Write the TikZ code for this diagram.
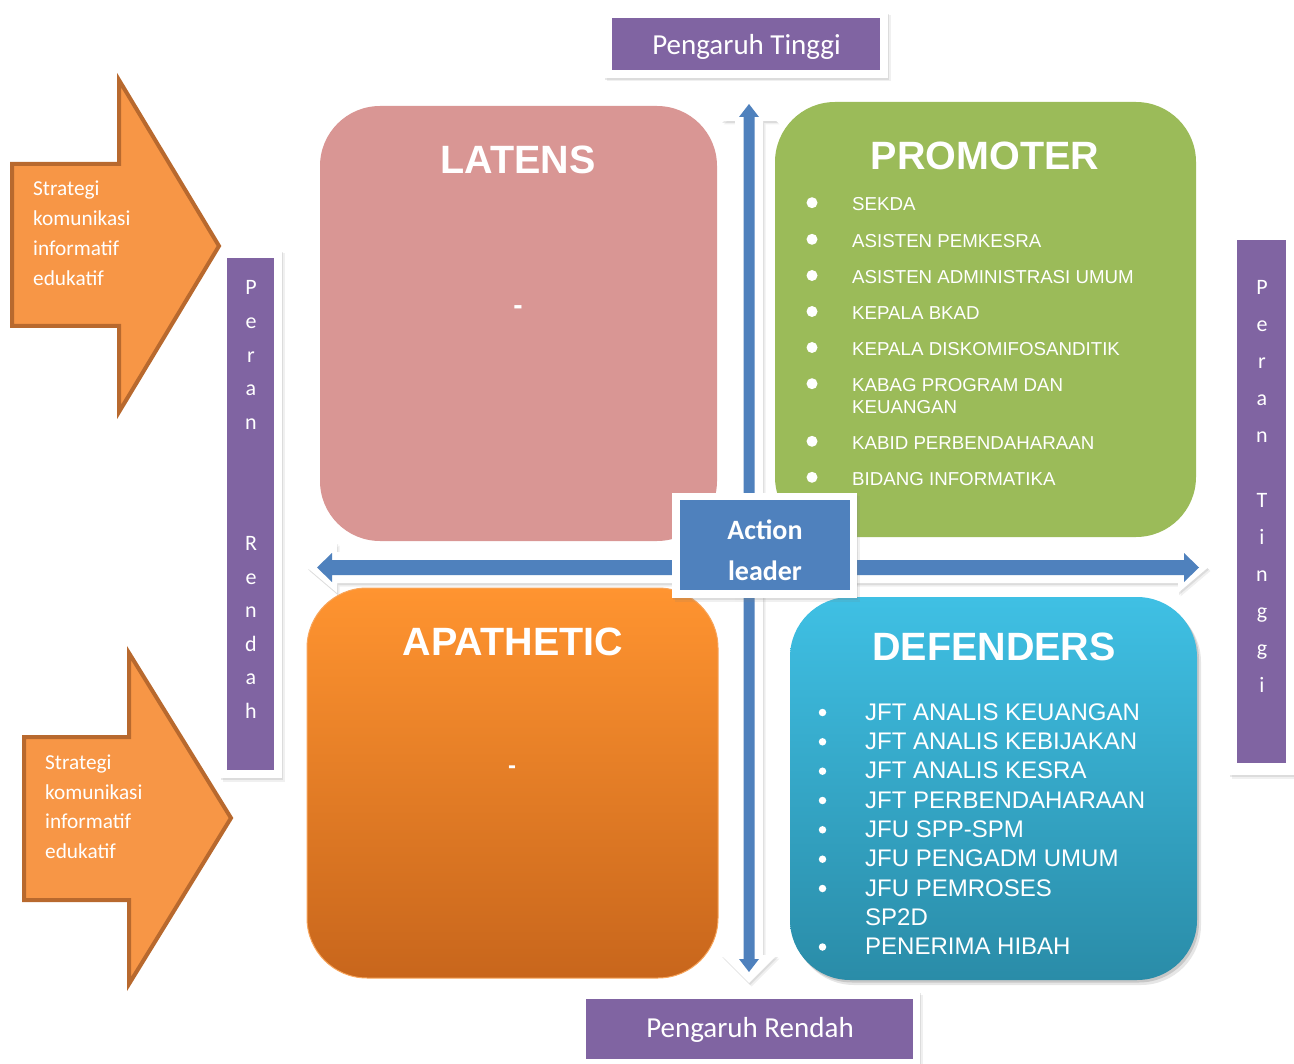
\documentclass[tikz,border=0pt]{standalone}
\usepackage{fontspec}
\setmainfont{Liberation Sans}
\newfontfamily\calfam{Carlito}
\usetikzlibrary{shadows}
\definecolor{purp}{HTML}{8064A2}
\definecolor{latc}{HTML}{D99694}
\definecolor{promc}{HTML}{9BBB59}
\definecolor{apaT}{HTML}{FF9430}
\definecolor{apaB}{HTML}{C8661C}
\definecolor{apaD}{HTML}{F7A55C}
\definecolor{defT}{HTML}{3FC0E4}
\definecolor{defB}{HTML}{2A8CA8}
\definecolor{actblue}{HTML}{4F81BD}
\definecolor{orarrow}{HTML}{F79646}
\definecolor{orborder}{HTML}{B8692E}
\tikzset{
  softshadow/.style={drop shadow={opacity=0.12, shadow xshift=2.5pt, shadow yshift=-3.5pt},
                     drop shadow={opacity=0.18, shadow xshift=1pt, shadow yshift=-2pt}},
  wframe/.style={fill=white, inner sep=0pt, softshadow},
  purpbox/.style={fill=purp, inner sep=0pt},
  ptext/.style={text=white, inner sep=0pt, font=\calfam\fontsize{29}{34}\selectfont},
  quad/.style={rounded corners=60pt, inner sep=0pt},
  qtitle/.style={text=white, inner sep=0pt, font=\bfseries\fontsize{39.5}{44}\selectfont},
  pitem/.style={anchor=base west, text=white, inner sep=0pt, font=\fontsize{18.7}{22}\selectfont},
  ditem/.style={anchor=base west, text=white, inner sep=0pt, font=\fontsize{24}{27}\selectfont},
  pbul/.style={circle, fill=white, minimum size=11pt, inner sep=0pt},
  dbul/.style={circle, fill=white, minimum size=7.5pt, inner sep=0pt},
  vletter/.style={anchor=base, text=white, inner sep=0pt, font=\calfam\fontsize{22}{26}\selectfont},
  strat/.style={anchor=base west, text=white, inner sep=0pt, font=\calfam\fontsize{21.3}{25}\selectfont},
  bigarrow/.style={fill=orarrow, draw=orborder, line width=4pt, line join=miter},
  warrow/.style={fill=white, softshadow},
  barrow/.style={fill=actblue}
}
\begin{document}
\begin{tikzpicture}[x=1pt,y=-1pt]
\useasboundingbox (0,0) rectangle (1294,1064);

% ---------- orange strategy arrows ----------
\draw[bigarrow] (12,164) -- (119,164) -- (119,80) -- (219,246) -- (119,412) -- (119,326) -- (12,326) -- cycle;
\foreach \t [count=\i] in {Strategi,komunikasi,informatif,edukatif}
  \node[strat] (sa\i) at (33,{196+(\i-1)*30}) {\t};
\draw[bigarrow] (24,737) -- (129,737) -- (129,653) -- (231,818) -- (129,984) -- (129,900) -- (24,900) -- cycle;
\foreach \t [count=\i] in {Strategi,komunikasi,informatif,edukatif}
  \node[strat] (sb\i) at (45,{769.5+(\i-1)*29.5}) {\t};

% ---------- axis double arrows ----------
\coordinate (vtop) at (749,93);
\coordinate (vbot) at (749,983);
\coordinate (hleft) at (307,567.5);
\coordinate (hright) at (1208,567.5);
\fill[warrow] (vtop) -- (777,121) -- (763,121) -- (763,955) -- (777,955) -- (vbot) -- (721,955) -- (735,955) -- (735,121) -- (721,121) -- cycle;
\fill[barrow] (749,104) -- (759,117) -- (754.5,117) -- (754.5,959) -- (759,959) -- (749,972) -- (739,959) -- (743.5,959) -- (743.5,117) -- (739,117) -- cycle;
\fill[warrow] (hleft) -- (337,542) -- (337,552) -- (1178,552) -- (1178,542) -- (hright) -- (1178,593) -- (1178,583) -- (337,583) -- (337,593) -- cycle;
\fill[barrow] (317,567.5) -- (332,553) -- (332,560) -- (1184,560) -- (1184,553) -- (1199,567.5) -- (1184,582) -- (1184,575) -- (332,575) -- (332,582) -- cycle;

% ---------- Pengaruh labels ----------
\node[wframe, minimum width=284pt, minimum height=66pt] (ptf) at (746,45) {};
\node[purpbox, minimum width=268pt, minimum height=52pt] (pt) at (746,44) {};
\node[ptext] (ptt) at (746.5,47) {Pengaruh Tinggi};
\node[wframe, minimum width=342pt, minimum height=78pt] (prf) at (749,1030) {};
\node[purpbox, minimum width=327pt, minimum height=60pt] (pr) at (749.5,1029) {};
\node[ptext] (prt) at (750,1030) {Pengaruh Rendah};

% ---------- Peran labels ----------
\node[wframe, minimum width=62pt, minimum height=528pt] (plf) at (251,514) {};
\node[purpbox, minimum width=47pt, minimum height=512pt] (pl) at (250.5,514) {};
\foreach \t [count=\i] in {P,e,r,a,n}
  \node[vletter] (pla\i) at (251,{295+(\i-1)*33.6}) {\t};
\foreach \t [count=\i] in {R,e,n,d,a,h}
  \node[vletter] (plb\i) at (251,{550.5+(\i-1)*33.6}) {\t};

\node[wframe, minimum width=66pt, minimum height=543pt] (prtf) at (1262,503.5) {};
\node[purpbox, minimum width=49pt, minimum height=523pt] (prtb) at (1261.5,501.5) {};
\foreach \t [count=\i] in {P,e,r,a,n}
  \node[vletter] (pra\i) at (1262,{295+(\i-1)*36.8}) {\t};
\foreach \t [count=\i] in {T,i,n,g,g,i}
  \node[vletter] (prb\i) at (1262,{507.5+(\i-1)*37}) {\t};

% ---------- quadrants ----------
\node[quad, fill=latc, minimum width=397pt, minimum height=435pt] (latens) at (518.5,323.5) {};
\node[qtitle] (latt) at (518,160) {LATENS};
\node[text=white, inner sep=0pt, font=\bfseries\fontsize{28}{30}\selectfont] (latd) at (518,310) {-};

\node[quad, fill=promc, minimum width=421pt, minimum height=435pt] (promoter) at (985.5,319.5) {};
\node[qtitle] (promt) at (985,156) {PROMOTER};
\foreach \t/\b [count=\i] in {SEKDA/210.7, ASISTEN PEMKESRA/247.3, ASISTEN ADMINISTRASI UMUM/283.5, KEPALA BKAD/319.5, KEPALA DISKOMIFOSANDITIK/355.5, KABAG PROGRAM DAN/391.7, KABID PERBENDAHARAAN/449.3, BIDANG INFORMATIKA/485.3}{
  \node[pitem] (pi\i) at (852,\b) {\t};
  \node[pbul] (pb\i) at (812,\b-8) {};
}
\node[pitem] (pi6b) at (852,413.3) {KEUANGAN};

\node[quad, top color=apaT, bottom color=apaB, draw=apaD, line width=1pt, minimum width=411pt, minimum height=390pt] (apathetic) at (512.5,783) {};
\node[qtitle] (apat) at (513,642) {APATHETIC};
\node[text=white, inner sep=0pt, font=\bfseries\fontsize{24}{28}\selectfont] (apad) at (512,770) {-};

\node[quad, top color=defT, bottom color=defB, minimum width=407pt, minimum height=383pt,
      drop shadow={opacity=0.2, shadow xshift=4pt, shadow yshift=-5pt},
      drop shadow={opacity=0.3, shadow xshift=2pt, shadow yshift=-2.5pt}] (defenders) at (993.5,788.5) {};
\node[qtitle] (deft) at (994,647) {DEFENDERS};
\foreach \t/\b [count=\i] in {JFT ANALIS KEUANGAN/720, JFT ANALIS KEBIJAKAN/749.3, JFT ANALIS KESRA/778.7, JFT PERBENDAHARAAN/808, JFU SPP-SPM/837.3, JFU PENGADM UMUM/866.7, JFU PEMROSES/896, PENERIMA HIBAH/954.5}{
  \node[ditem] (di\i) at (865,\b) {\t};
  \node[dbul] (db\i) at (822.5,\b-7.5) {};
}
\node[ditem] (di7b) at (865,925.3) {SP2D};

% ---------- Action leader ----------
\node[wframe, minimum width=185pt, minimum height=105pt] (actf) at (764.5,545.5) {};
\node[fill=actblue, inner sep=0pt, minimum width=170pt, minimum height=90pt] (act) at (765,545) {};
\node[text=white, inner sep=0pt, align=center, font=\calfam\bfseries\fontsize{28}{41}\selectfont] (actt) at (765,550) {Action\\leader};
\end{tikzpicture}
\end{document}
